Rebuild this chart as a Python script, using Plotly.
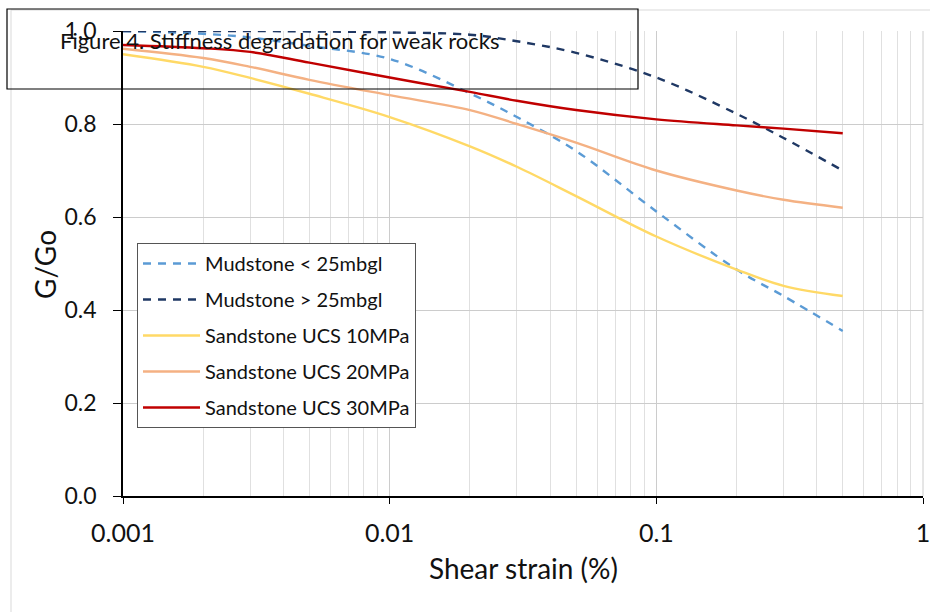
import plotly.graph_objects as go

# Shear strain (%) at which each curve is sampled
strain = [0.001, 0.002, 0.003, 0.005, 0.01, 0.02, 0.03, 0.05, 0.1, 0.2, 0.3, 0.5]

# G/Go ratios for each material
mud_shallow = [1.0, 0.994, 0.986, 0.968, 0.94, 0.866, 0.815, 0.742, 0.612, 0.487, 0.43, 0.355]
mud_deep = [1.0, 1.0, 1.0, 0.999, 0.997, 0.992, 0.978, 0.953, 0.90, 0.822, 0.77, 0.70]
sand_10 = [0.95, 0.923, 0.899, 0.865, 0.815, 0.752, 0.708, 0.645, 0.558, 0.487, 0.452, 0.43]
sand_20 = [0.962, 0.942, 0.923, 0.895, 0.862, 0.83, 0.80, 0.76, 0.70, 0.657, 0.637, 0.62]
sand_30 = [0.97, 0.963, 0.955, 0.932, 0.90, 0.869, 0.85, 0.83, 0.81, 0.797, 0.79, 0.78]

series_names = [
    "Mudstone < 25mbgl",
    "Mudstone > 25mbgl",
    "Sandstone UCS 10MPa",
    "Sandstone UCS 20MPa",
    "Sandstone UCS 30MPa",
]
series_values = [mud_shallow, mud_deep, sand_10, sand_20, sand_30]
series_colors = ["#5B9BD5", "#1F3864", "#FFD966", "#F4B183", "#C00000"]
series_dash = ["8px,7px", "8px,7px", "solid", "solid", "solid"]

x_tickvals = [0.001, 0.01, 0.1, 1]
x_ticktext = ["0.001", "0.01", "0.1", "1"]
y_tickvals = [0.0, 0.2, 0.4, 0.6, 0.8, 1.0]
y_ticktext = ["0.0", "0.2", "0.4", "0.6", "0.8", "1.0"]

FONT = "Lato"
TEXT = "#111111"

# plot-area geometry in pixels (used to place the frame, title box and axis titles)
L, R, T, B = 123, 923, 31, 496
W, H = R - L, B - T


def px(x):
    return (x - L) / W


def py(y):
    return (B - y) / H


fig = go.Figure()
for name, vals, col, dash in zip(series_names, series_values, series_colors, series_dash):
    fig.add_trace(go.Scatter(
        x=strain, y=vals, name=name, mode="lines",
        legendgroup=name,
        line=dict(color=col, width=2.4, dash=dash, shape="spline", smoothing=1.0),
    ))

fig.update_layout(
    width=930, height=612,
    margin=dict(l=L, r=930 - R, t=T, b=612 - B),
    paper_bgcolor="white", plot_bgcolor="white",
    font=dict(family=FONT, color=TEXT),
    showlegend=True,
    legend=dict(
        x=px(137), y=py(243), xanchor="left", yanchor="top",
        bgcolor="white", bordercolor="#555555", borderwidth=1,
        font=dict(family=FONT, size=20, color=TEXT),
        traceorder="grouped", tracegroupgap=7,
        itemwidth=57,
        entrywidth=300, entrywidthmode="pixels",
    ),
    xaxis=dict(
        type="log", range=[-3, 0], automargin=False,
        tickvals=x_tickvals, ticktext=x_ticktext,
        ticklabeloverflow="allow",
        showline=True, linecolor="black", linewidth=1.5,
        ticks="outside", ticklen=6, tickcolor="black",
        ticklabelstandoff=8,
        tickfont=dict(family=FONT, size=25, color=TEXT),
        showgrid=True, gridcolor="#cccccc", gridwidth=1,
        minor=dict(dtick="D1", showgrid=True, gridcolor="#e0e0e0", gridwidth=1, ticks=""),
        zeroline=False,
    ),
    yaxis=dict(
        range=[0, 1.0], automargin=False,
        tickvals=y_tickvals, ticktext=y_ticktext,
        ticklabeloverflow="allow",
        showline=True, linecolor="black", linewidth=1.5,
        ticks="outside", ticklen=8, tickcolor="black",
        ticklabelstandoff=12,
        tickfont=dict(family=FONT, size=23, color=TEXT),
        showgrid=True, gridcolor="#cccccc", gridwidth=1,
        zeroline=False,
    ),
    shapes=[
        # outer chart frame
        dict(type="rect", xref="paper", yref="paper",
             x0=px(11), x1=px(940), y0=py(620), y1=py(10),
             line=dict(color="#d9d9d9", width=1), fillcolor="rgba(0,0,0,0)", layer="below"),
        # right edge of the plot area
        dict(type="line", xref="paper", yref="paper", x0=1, x1=1, y0=0, y1=1,
             line=dict(color="#cccccc", width=1), layer="below"),
        # title box
        dict(type="rect", xref="paper", yref="paper",
             x0=px(7), x1=px(638), y0=py(89), y1=py(9),
             line=dict(color="black", width=1.2), fillcolor="rgba(0,0,0,0)", layer="above"),
    ],
    annotations=[
        dict(text="Figure 4. Stiffness degradation for weak rocks",
             xref="paper", yref="paper", x=px(58), y=py(40),
             xanchor="left", yanchor="middle", showarrow=False,
             font=dict(family=FONT, size=22, color=TEXT)),
        dict(text="Shear strain (%)",
             xref="paper", yref="paper", x=px(523), y=py(568),
             xanchor="center", yanchor="middle", showarrow=False,
             font=dict(family=FONT, size=28, color=TEXT)),
        dict(text="G/Go",
             xref="paper", yref="paper", x=px(45), y=py(265),
             xanchor="center", yanchor="middle", showarrow=False, textangle=-90,
             font=dict(family=FONT, size=28, color=TEXT)),
    ],
)

fig.write_html("out.html")
